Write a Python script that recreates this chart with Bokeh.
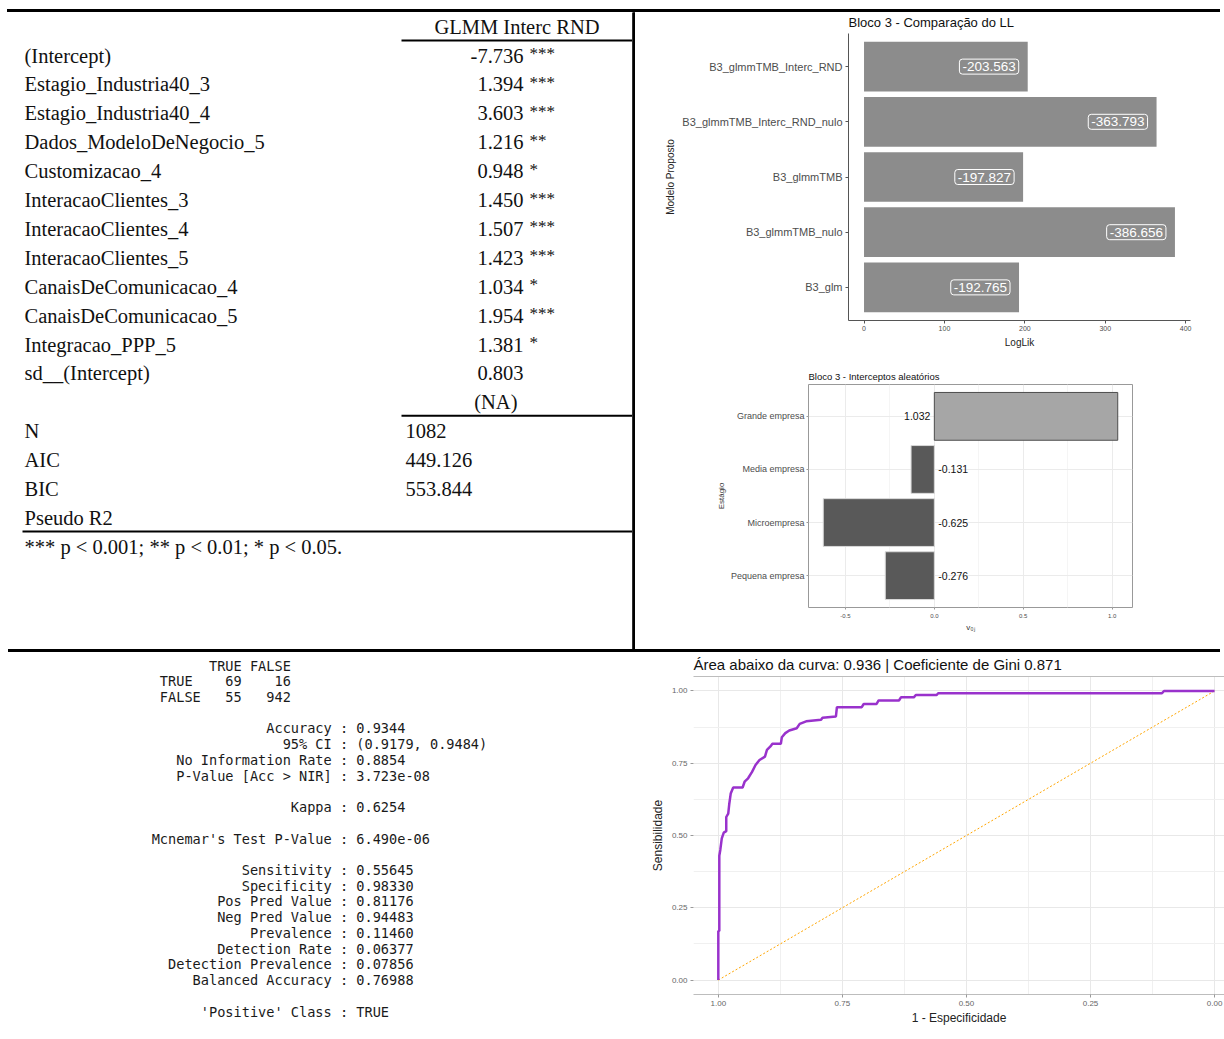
from bokeh.plotting import figure
from bokeh.layouts import row, column
from bokeh.models import (Range1d, FactorRange, LinearAxis, FixedTicker, Spacer,
                          ColumnDataSource, NumeralTickFormatter)
from bokeh.core.properties import value
from bokeh.embed import file_html
from bokeh.resources import INLINE

# ---------------- data ----------------
model_name = "GLMM Interc RND"
coef_names = ["(Intercept)", "Estagio_Industria40_3", "Estagio_Industria40_4",
              "Dados_ModeloDeNegocio_5", "Customizacao_4", "InteracaoClientes_3",
              "InteracaoClientes_4", "InteracaoClientes_5", "CanaisDeComunicacao_4",
              "CanaisDeComunicacao_5", "Integracao_PPP_5", "sd__(Intercept)"]
coef_values = ["-7.736", "1.394", "3.603", "1.216", "0.948", "1.450", "1.507",
               "1.423", "1.034", "1.954", "1.381", "0.803"]
coef_stars = ["***", "***", "***", "**", "*", "***", "***", "***", "*", "***", "*", ""]
coef_se_last = "(NA)"
gof_names = ["N", "AIC", "BIC", "Pseudo R2"]
gof_values = ["1082", "449.126", "553.844", ""]
footnote = "*** p < 0.001; ** p < 0.01; * p < 0.05."

ll_models = ["B3_glmmTMB_Interc_RND", "B3_glmmTMB_Interc_RND_nulo", "B3_glmmTMB",
             "B3_glmmTMB_nulo", "B3_glm"]
ll_loglik = [-203.563, -363.793, -197.827, -386.656, -192.765]

re_groups = ["Grande empresa", "Media empresa", "Microempresa", "Pequena empresa"]
re_values = [1.032, -0.131, -0.625, -0.276]

cm_classes = ["TRUE", "FALSE"]
cm_counts = [[69, 16], [55, 942]]
stat_names = ["Accuracy", "95% CI", "No Information Rate", "P-Value [Acc > NIR]", "",
              "Kappa", "", "Mcnemar's Test P-Value", "",
              "Sensitivity", "Specificity", "Pos Pred Value", "Neg Pred Value",
              "Prevalence", "Detection Rate", "Detection Prevalence", "Balanced Accuracy",
              "", "'Positive' Class"]
stat_values = ["0.9344", "(0.9179, 0.9484)", "0.8854", "3.723e-08", "",
               "0.6254", "", "6.490e-06", "",
               "0.55645", "0.98330", "0.81176", "0.94483", "0.11460", "0.06377",
               "0.07856", "0.76988", "", "TRUE"]

auc = 0.936
gini = 0.871
roc_spec = [1.000, 1.000, 0.998, 0.998, 0.996, 0.993, 0.989, 0.984, 0.984, 0.980,
            0.978, 0.975, 0.970, 0.951, 0.947, 0.940, 0.932, 0.925, 0.917, 0.906,
            0.902, 0.895, 0.891, 0.874, 0.872, 0.865, 0.857, 0.842, 0.836, 0.823,
            0.793, 0.790, 0.763, 0.761, 0.711, 0.707, 0.681, 0.677, 0.636, 0.632,
            0.606, 0.602, 0.560, 0.557, 0.106, 0.102, 0.000]
roc_sens = [0.000, 0.170, 0.170, 0.430, 0.450, 0.490, 0.510, 0.515, 0.564, 0.576,
            0.608, 0.645, 0.666, 0.666, 0.686, 0.698, 0.720, 0.744, 0.761, 0.773,
            0.796, 0.808, 0.817, 0.817, 0.840, 0.854, 0.863, 0.871, 0.886, 0.895,
            0.900, 0.907, 0.912, 0.944, 0.944, 0.955, 0.955, 0.967, 0.967, 0.978,
            0.978, 0.986, 0.986, 0.992, 0.992, 1.000, 1.000]
diag_x = [1.0, 0.0]
diag_y = [0.0, 1.0]

SANS = "Liberation Sans"
SERIF = "Liberation Serif"
MONO = "DejaVu Sans Mono"
NBSP = "\u00a0"
PAGE_W = 1224


def base(width, height, **kw):
    return figure(width=width, height=height, output_backend="svg",
                  toolbar_location=None, frame_align=False, **kw)


def canvas(width, height):
    p = base(width, height, x_range=Range1d(0, width), y_range=Range1d(height, 0),
             x_axis_location=None, y_axis_location=None,
             min_border=0, min_border_left=0, min_border_right=0,
             min_border_top=0, min_border_bottom=0)
    p.outline_line_color = None
    p.grid.visible = False
    return p


def band(height, x0, y0, length):
    # thin horizontal black rule drawn as a CSS background of a spacer
    return Spacer(width=PAGE_W, height=height,
                  styles={"background": f"linear-gradient(black, black) {x0}px {y0}px / {length}px 3px no-repeat"})


# ---------------- top-left: regression table ----------------
TLW, TLH = 632, 637
tl = canvas(TLW, TLH)
row0, pitch = 43.0, 28.9
lab_x, val_r, star_l, gof_l, col_l = 24, 523, 529, 405, 401
n_coef = len(coef_names)
ys_coef = [row0 + pitch * i for i in range(n_coef)]
serif_kw = dict(text_font=value(SERIF), text_font_size="20.5px", text_baseline="middle",
                text_color="#111111")
tl.text(x=[lab_x] * n_coef, y=ys_coef, text=coef_names, text_align="left", **serif_kw)
tl.text(x=[val_r] * n_coef, y=ys_coef, text=coef_values, text_align="right", **serif_kw)
tl.text(x=[star_l] * n_coef, y=ys_coef, text=coef_stars, text_font=value(SERIF),
        text_font_size="17px", text_baseline="middle", text_align="left",
        text_color="#111111", y_offset=-2)
y_na = row0 + pitch * n_coef
tl.text(x=[val_r - 6], y=[y_na], text=[coef_se_last], text_align="right", **serif_kw)
ys_gof = [row0 + pitch * (n_coef + 1 + i) for i in range(len(gof_names))]
tl.text(x=[lab_x] * len(gof_names), y=ys_gof, text=gof_names, text_align="left", **serif_kw)
tl.text(x=[gof_l] * len(gof_names), y=ys_gof, text=gof_values, text_align="left", **serif_kw)
y_head = row0 - pitch
tl.text(x=[(col_l + TLW) / 2], y=[y_head], text=[model_name], text_align="center", **serif_kw)
y_foot = row0 + pitch * (n_coef + 1 + len(gof_names))
tl.text(x=[lab_x], y=[y_foot], text=[footnote], text_align="left", **serif_kw)
tl.segment(x0=[col_l, col_l, lab_x - 2], x1=[TLW, TLW, TLW],
           y0=[y_head + 14, y_na + 13.5, ys_gof[-1] + 13.5],
           y1=[y_head + 14, y_na + 13.5, ys_gof[-1] + 13.5],
           line_color="black", line_width=2)

# vertical rule between the two upper panels
v_rule = canvas(3, TLH)
v_rule.quad(left=0, right=3, top=0, bottom=TLH, color="black")
v_rule.background_fill_color = "black"
v_rule.border_fill_color = "black"

# ---------------- top-right (1): LogLik comparison ----------------
TRW = PAGE_W - TLW - 3
ll_abs = [abs(v) for v in ll_loglik]
ll_labels = [f"{v:.3f}" for v in ll_loglik]
bc1 = base(TRW, 344,
           y_range=FactorRange(factors=ll_models[::-1], range_padding=0.1,
                               range_padding_units="absolute"),
           x_range=Range1d(-19.3, 406), title="Bloco 3 - Comparação do LL",
           min_border_left=213, min_border_right=TRW - 213 - 342,
           min_border_top=21, min_border_bottom=36)
s1 = ColumnDataSource(dict(model=ll_models, ll=ll_abs, lab=ll_labels))
bc1.hbar(y="model", left=0, right="ll", height=0.9, source=s1,
         fill_color="#8c8c8c", line_color=None)
bc1.text(x="ll", y="model", text="lab", source=s1, text_align="right",
         text_baseline="middle", x_offset=-9, text_color="white",
         text_font=value(SANS), text_font_size="13.5px",
         border_line_color="white", border_line_width=1, border_radius=3, padding=3)
bc1.grid.visible = False
bc1.outline_line_color = None
bc1.xaxis.ticker = FixedTicker(ticks=[0, 100, 200, 300, 400])
for ax in (bc1.xaxis, bc1.yaxis):
    ax.axis_line_color = "#555555"
    ax.major_tick_line_color = "#555555"
    ax.major_tick_out = 3
    ax.major_tick_in = 0
    ax.minor_tick_line_color = None
    ax.major_label_text_font = SANS
    ax.major_label_text_color = "#4d4d4d"
    ax.axis_label_text_font = SANS
    ax.axis_label_text_font_style = "normal"
    ax.axis_label_text_color = "#222222"
    ax.axis_label_standoff = 3
    ax.axis_label_text_font_size = "10px"
bc1.xaxis.major_label_text_font_size = "7px"
bc1.xaxis.major_label_standoff = 2
bc1.xaxis.axis_label = "LogLik"
bc1.yaxis.major_label_text_font_size = "11px"
bc1.yaxis.major_label_standoff = 3
bc1.yaxis.axis_label = "Modelo Proposto"
bc1.title.text_font = SANS
bc1.title.text_font_size = "13px"
bc1.title.text_font_style = "normal"
bc1.title.text_color = "#111111"
bc1.title.standoff = 3
bc1.title.vertical_align = "top"

# ---------------- top-right (2): random intercepts ----------------
re_fill = ["#a6a6a6" if v > 0 else "#595959" for v in re_values]
re_edge = ["#4d4d4d" if v > 0 else "#d9d9d9" for v in re_values]
re_align = ["right" if v > 0 else "left" for v in re_values]
re_off = [-4 if v > 0 else 4 for v in re_values]
re_labels = [f"{v:.3f}" for v in re_values]
bc2 = base(TRW, TLH - 344,
           y_range=FactorRange(factors=re_groups[::-1], range_padding=0.1,
                               range_padding_units="absolute"),
           x_range=Range1d(-0.708, 1.115), title="Bloco 3 - Interceptos aleatórios",
           min_border_left=173, min_border_right=TRW - 173 - 324,
           min_border_top=28, min_border_bottom=42)
s2 = ColumnDataSource(dict(g=re_groups, v=re_values, fill=re_fill, edge=re_edge,
                           align=re_align, off=re_off, lab=re_labels, zero=[0] * len(re_values)))
bc2.hbar(y="g", left=0, right="v", height=0.9, source=s2, fill_color="fill",
         line_color="edge", line_width=1)
bc2.text(x="zero", y="g", text="lab", source=s2, text_align="align", x_offset="off",
         text_baseline="middle", text_color="#111111", text_font=value(SANS),
         text_font_size="10.5px")
bc2.xaxis.ticker = FixedTicker(ticks=[-0.5, 0.0, 0.5, 1.0], minor_ticks=[-0.25, 0.25, 0.75])
bc2.xaxis.formatter = NumeralTickFormatter(format="0.0")
bc2.xgrid.grid_line_color = "#ebebeb"
bc2.xgrid.minor_grid_line_color = "#f5f5f5"
bc2.ygrid.grid_line_color = "#ebebeb"
bc2.outline_line_color = "#999999"
bc2.outline_line_width = 1
for ax in (bc2.xaxis, bc2.yaxis):
    ax.axis_line_color = None
    ax.major_tick_line_color = "#999999"
    ax.major_tick_out = 2
    ax.major_tick_in = 0
    ax.minor_tick_line_color = None
    ax.major_label_standoff = 2
    ax.major_label_text_font = SANS
    ax.major_label_text_color = "#4d4d4d"
    ax.axis_label_text_font = SANS
    ax.axis_label_text_font_style = "normal"
    ax.axis_label_text_color = "#333333"
    ax.axis_label_standoff = 2
    ax.axis_label_text_font_size = "8px"
bc2.xaxis.major_label_text_font_size = "6px"
bc2.yaxis.major_label_text_font_size = "9px"
bc2.xaxis.axis_label = "v₀ⱼ"
bc2.yaxis.axis_label = "Estágio"
bc2.title.text_font = SANS
bc2.title.text_font_size = "9.5px"
bc2.title.text_font_style = "normal"
bc2.title.text_color = "#111111"
bc2.title.standoff = 5

# ---------------- bottom-left: confusion matrix output ----------------
BLW, BLH = 634, 384
bl = canvas(BLW, BLH)
cm_lines = [" " * 8 + " ".join([f"{cm_classes[0]:>4}", cm_classes[1]])]
for cls, cnt in zip(cm_classes, cm_counts):
    cm_lines.append(f"  {cls:<6}{cnt[0]:>4}{cnt[1]:>6}")
cm_lines.append("")
for nm, vl in zip(stat_names, stat_values):
    cm_lines.append(f"{nm:>23} : {vl}" if nm else "")
keep = [(i, t.replace(" ", NBSP)) for i, t in enumerate(cm_lines) if t]
bl.text(x=[143] * len(keep), y=[13 + 15.73 * i for i, _ in keep], text=[t for _, t in keep],
        text_font=value(MONO), text_font_size="13.6px", text_baseline="middle",
        text_align="left", text_color="#1a1a1a")

# ---------------- bottom-right: ROC curve ----------------
ROCW = PAGE_W - BLW
roc = base(ROCW, BLH, x_range=Range1d(1.05, -0.020), y_range=Range1d(-0.05, 1.05),
           title=f"Área abaixo da curva: {auc:.3f} | Coeficiente de Gini {gini:.3f}",
           min_border_left=59, min_border_right=0, min_border_top=24,
           min_border_bottom=BLH - 342)
roc.line(diag_x, diag_y, line_color="#FFA500", line_width=1, line_dash="2 2")
roc.line(roc_spec, roc_sens, line_color="#9932CC", line_width=2.5)
tick = FixedTicker(ticks=[0, 0.25, 0.5, 0.75, 1.0], minor_ticks=[0.125, 0.375, 0.625, 0.875])
roc.xaxis.ticker = tick
roc.yaxis.ticker = tick
roc.xaxis.formatter = NumeralTickFormatter(format="0.00")
roc.yaxis.formatter = NumeralTickFormatter(format="0.00")
roc.grid.grid_line_color = "#e8e8e8"
roc.grid.minor_grid_line_color = "#f0f0f0"
roc.outline_line_color = None
for ax in (roc.xaxis, roc.yaxis):
    ax.major_tick_line_color = "#999999"
    ax.major_tick_out = 3
    ax.major_tick_in = 0
    ax.minor_tick_line_color = None
    ax.major_label_standoff = 2
    ax.major_label_text_font = SANS
    ax.major_label_text_color = "#666666"
    ax.major_label_text_font_size = "8px"
    ax.axis_label_text_font = SANS
    ax.axis_label_text_font_style = "normal"
    ax.axis_label_text_color = "#222222"
    ax.axis_label_text_font_size = "12px"
roc.xaxis.axis_line_color = "#bdbdbd"
roc.xaxis.axis_label = "1 - Especificidade"
roc.xaxis.axis_label_standoff = 2
roc.yaxis.axis_line_color = None
roc.yaxis.axis_label = "Sensibilidade"
roc.yaxis.axis_label_standoff = 4
top_ax = LinearAxis(ticker=FixedTicker(ticks=[]), axis_line_color="#bdbdbd",
                    major_tick_line_color=None, minor_tick_line_color=None,
                    major_label_text_font_size="0px", major_label_standoff=0)
roc.add_layout(top_ax, "above")
roc.title.text_font = SANS
roc.title.text_font_size = "15px"
roc.title.text_font_style = "normal"
roc.title.text_color = "#111111"
roc.title.standoff = 4
roc.title.vertical_align = "top"

# ---------------- layout ----------------
top_band = band(12, 7, 9, 1213)
mid_band = band(3, 8, 0, 1212)
layout = column(top_band,
                row(tl, v_rule, column(bc1, bc2)),
                mid_band,
                row(bl, roc))

open("out.html", "w").write(file_html(layout, INLINE, title="Bloco 3"))
